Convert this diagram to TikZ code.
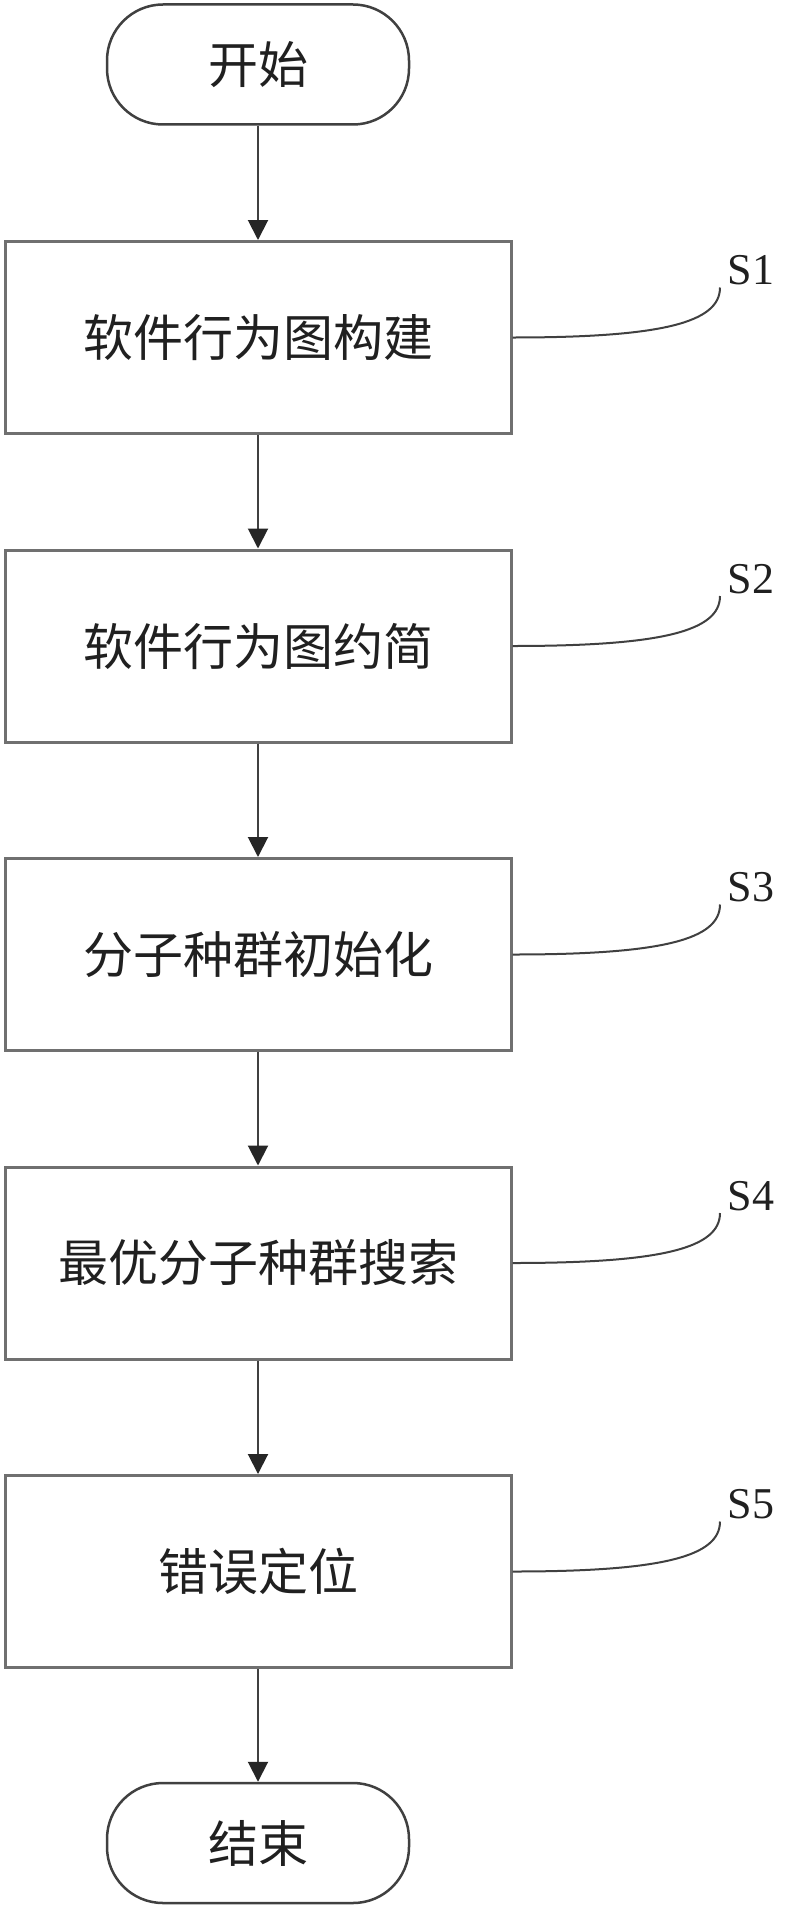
\documentclass[tikz,border=0pt]{standalone}
\usepackage{fontspec}
\setmainfont{Liberation Serif}
\newfontfamily\cjk{Noto Sans CJK SC}
\usetikzlibrary{arrows.meta}
\definecolor{boxgray}{HTML}{707070}
\definecolor{linegray}{HTML}{404040}
\definecolor{txt}{HTML}{202020}
\begin{document}
\begin{tikzpicture}[x=1pt,y=-1pt,
  stepbox/.style={draw=boxgray, line width=3pt, minimum width=506pt, minimum height=192pt, inner sep=0pt, font=\cjk\fontsize{50}{60}\selectfont, text=txt},
  term/.style={draw=linegray, line width=2.5pt, rounded corners=56pt, minimum width=302pt, minimum height=120pt, inner sep=0pt, font=\cjk\fontsize{50}{60}\selectfont, text=txt},
  flow/.style={draw=linegray, line width=2pt, -{Triangle[length=20pt,width=20pt,color=black!85]}},
  lead/.style={draw=linegray, line width=2pt},
  slabel/.style={font=\fontsize{44}{50}\selectfont, text=txt, inner sep=0pt}]
\useasboundingbox[fill=white] (0,0) rectangle (800,1908);
\node[term] (start) at (258,64.5) {开始};
\foreach \i/\t in {1/软件行为图构建,2/软件行为图约简,3/分子种群初始化,4/最优分子种群搜索,5/错误定位}{
  \pgfmathsetmacro{\cy}{337.5+308.5*(\i-1)}
  \node[stepbox] (b\i) at (258,\cy) {\t};
  \coordinate (e\i) at (720,\cy-50);
  \node[slabel] (s\i) at (751,\cy-67) {S\i};
  \draw[lead] (b\i.east) .. controls +(150,0) and +(0,35) .. (e\i);
}
\node[term] (end) at (258,1843) {结束};
\draw[flow] (start) -- (b1);
\draw[flow] (b1) -- (b2);
\draw[flow] (b2) -- (b3);
\draw[flow] (b3) -- (b4);
\draw[flow] (b4) -- (b5);
\draw[flow] (b5) -- (end);
\end{tikzpicture}
\end{document}
